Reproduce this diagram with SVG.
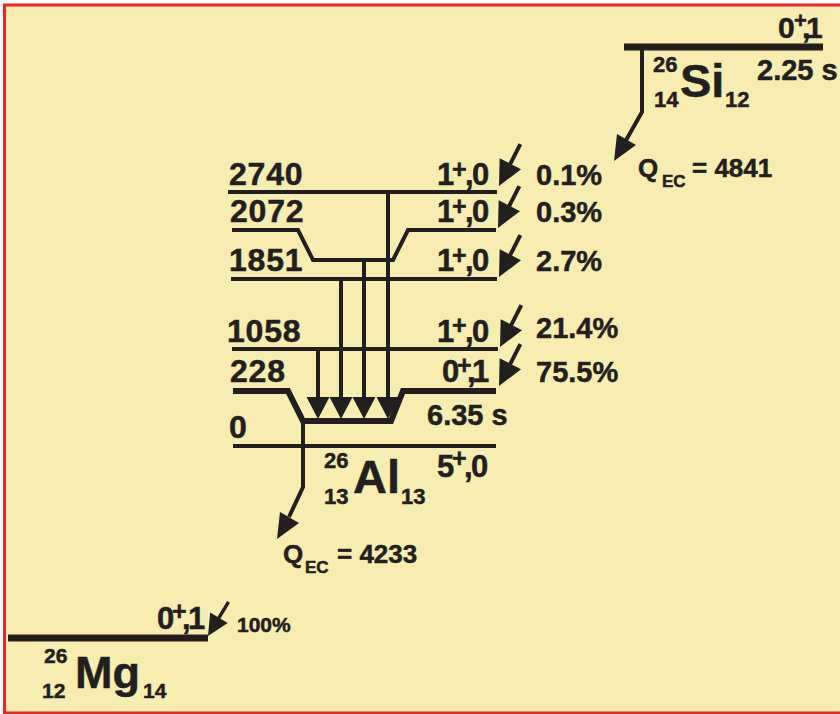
<svg xmlns="http://www.w3.org/2000/svg" width="840" height="714" viewBox="0 0 840 714">
<style>
text{font-family:"Liberation Sans",Arial,sans-serif;font-weight:bold;fill:#231F20;stroke:#231F20;stroke-width:0.5px}
.lv{stroke:#231F20;stroke-width:4;fill:none}
.lvt{stroke:#231F20;stroke-width:6;fill:none}
.lvk{stroke:#231F20;stroke-width:7;fill:none}
.num{font-size:32px;letter-spacing:0.8px}
.pct{font-size:29px}
.sp{font-size:31px}
.sup{font-size:25px}
.big{font-size:47px}
.iso{font-size:22px}
.q{font-size:26px}
.qs{font-size:17px}
.g{stroke:#231F20;stroke-width:4;fill:none}
.ah{fill:#231F20}
</style>
<defs>
<g id="beta"><line x1="-20" y1="0" x2="-47" y2="0" stroke="#231F20" stroke-width="4"/><polygon points="0,0 -25,-12 -25,12" fill="#231F20"/></g>
</defs>
<rect x="0" y="0" width="840" height="714" fill="#ffffff"/>
<rect x="4.5" y="5" width="900" height="708" fill="#F8EDB0" stroke="#E8262B" stroke-width="3"/>

<g id="si26">
<line class="lvk" x1="624" y1="47" x2="823" y2="47"/>
<text style="font-size:30px"><tspan x="778" y="38">0</tspan><tspan style="font-size:22px" x="794" y="28">+</tspan><tspan x="802" y="38">,</tspan><tspan x="806" y="38">1</tspan></text>
<text class="iso" x="653" y="72">26</text>
<text class="big" x="680" y="97">Si</text>
<text class="iso" x="654" y="107">14</text>
<text class="iso" x="725" y="107">12</text>
<text class="pct" x="757" y="80">2.25 s</text>
<text class="q" x="638" y="177">Q</text><text class="qs" x="662" y="187">EC</text><text class="q" x="692" y="177">= 4841</text>
</g>

<g id="al26-2740">
<line class="lv" x1="228" y1="192" x2="497" y2="192"/>
<text class="num" x="229" y="185">2740</text>
<text class="sp"><tspan x="437" y="185">1</tspan><tspan class="sup" x="452" y="178">+</tspan><tspan x="465" y="185">,</tspan><tspan x="472" y="185">0</tspan></text>
<text class="pct" x="536" y="185">0.1%</text>
</g>

<g id="al26-2072">
<path class="lv" d="M232,230 H298 L313,260 H393 L408,230 H496"/>
<text class="num" x="230" y="222">2072</text>
<text class="sp"><tspan x="437" y="222">1</tspan><tspan class="sup" x="452" y="215">+</tspan><tspan x="465" y="222">,</tspan><tspan x="472" y="222">0</tspan></text>
<text class="pct" x="536" y="222">0.3%</text>
</g>

<g id="al26-1851">
<line class="lv" x1="231" y1="279" x2="497" y2="279"/>
<text class="num" x="229" y="271">1851</text>
<text class="sp"><tspan x="437" y="271">1</tspan><tspan class="sup" x="452" y="264">+</tspan><tspan x="465" y="271">,</tspan><tspan x="472" y="271">0</tspan></text>
<text class="pct" x="536" y="271">2.7%</text>
</g>

<g id="al26-1058">
<line class="lv" x1="232" y1="349" x2="498" y2="349"/>
<text class="num" x="227" y="342">1058</text>
<text class="sp"><tspan x="437" y="342">1</tspan><tspan class="sup" x="452" y="334">+</tspan><tspan x="465" y="342">,</tspan><tspan x="472" y="342">0</tspan></text>
<text class="pct" x="536" y="338">21.4%</text>
</g>

<g id="al26-228">
<path class="lvt" d="M233,391 H288 L303,421 H391 L403,391 H496"/>
<text class="num" x="230" y="382">228</text>
<text class="sp"><tspan x="442" y="382">0</tspan><tspan class="sup" x="457" y="374">+</tspan><tspan x="467" y="382">,</tspan><tspan x="472" y="382">1</tspan></text>
<text class="pct" x="536" y="382">75.5%</text>
<text class="pct" x="427" y="425">6.35 s</text>
</g>

<g id="al26-0">
<line class="lv" x1="233" y1="446" x2="496" y2="446"/>
<text class="num" x="229" y="438">0</text>
<text class="sp"><tspan x="437" y="477">5</tspan><tspan class="sup" x="452" y="467">+</tspan><tspan x="464" y="477">,</tspan><tspan x="471" y="477">0</tspan></text>
<text class="iso" x="324" y="468">26</text>
<text class="big" x="353" y="493">Al</text>
<text class="iso" x="324" y="504">13</text>
<text class="iso" x="401" y="504">13</text>
<text class="q" x="283" y="563">Q</text><text class="qs" x="305" y="573">EC</text><text class="q" x="337" y="563">= 4233</text>
</g>

<g id="mg26">
<line class="lvk" x1="8" y1="638" x2="208" y2="638"/>
<text class="sp"><tspan x="157" y="629">0</tspan><tspan class="sup" x="172" y="620">+</tspan><tspan x="182" y="629">,</tspan><tspan x="188" y="629">1</tspan></text>
<text style="font-size:21px" x="237" y="632">100%</text>
<text style="font-size:21px" x="44" y="663">26</text>
<text style="font-size:45px" x="75" y="688">Mg</text>
<text style="font-size:21px" x="42" y="698">12</text>
<text style="font-size:21px" x="143" y="698">14</text>
</g>

<g id="connectors">
<polyline class="g" points="642,50 642,112 625,142"/>
<polygon class="ah" points="614,161 617,134 636,145"/>
<polyline class="g" points="303,421 303,487 289,517"/>
<polygon class="ah" points="277,539 280,512 299,523"/>
<line class="g" x1="388" y1="192" x2="388" y2="400"/>
<line class="g" x1="364" y1="260" x2="364" y2="400"/>
<line class="g" x1="341" y1="279" x2="341" y2="400"/>
<line class="g" x1="318" y1="349" x2="318" y2="400"/>
<path class="ah" d="M306.5,397 H329.5 L318,419 Z M329.5,397 H352.5 L341,419 Z M352.5,397 H375.5 L364,419 Z M376.5,397 H399.5 L388,419 Z"/>
<use href="#beta" transform="translate(499,186) rotate(117)"/>
<use href="#beta" transform="translate(498,228) rotate(117)"/>
<use href="#beta" transform="translate(499,277) rotate(117)"/>
<use href="#beta" transform="translate(500,347) rotate(117)"/>
<use href="#beta" transform="translate(499,386) rotate(117)"/>
<use href="#beta" transform="translate(208,636) rotate(121) scale(0.85)"/>
</g>
</svg>
